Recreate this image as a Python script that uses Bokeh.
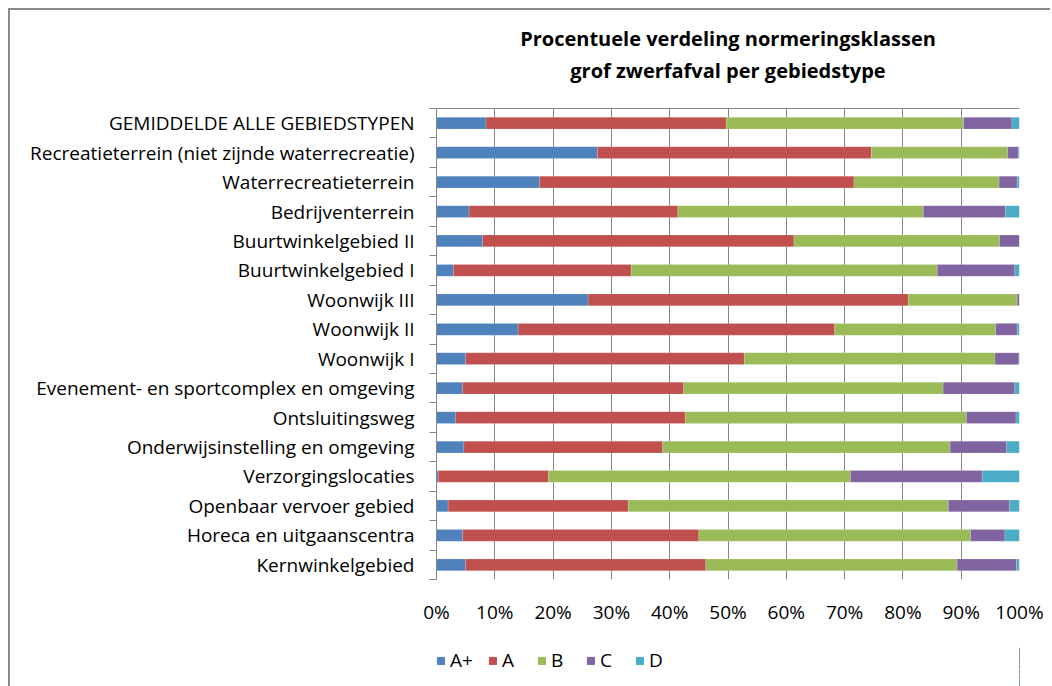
from bokeh.plotting import figure
from bokeh.layouts import column
from bokeh.models import (FactorRange, Range1d, LinearAxis, CategoricalAxis, FixedTicker,
                          Legend, PrintfTickFormatter, CustomJSTickFormatter, ColumnDataSource)
from bokeh.embed import file_html
from bokeh.resources import INLINE

categories = [
    "GEMIDDELDE ALLE GEBIEDSTYPEN",
    "Recreatieterrein (niet zijnde waterrecreatie)",
    "Waterrecreatieterrein",
    "Bedrijventerrein",
    "Buurtwinkelgebied II",
    "Buurtwinkelgebied I",
    "Woonwijk III",
    "Woonwijk II",
    "Woonwijk I",
    "Evenement- en sportcomplex en omgeving",
    "Ontsluitingsweg",
    "Onderwijsinstelling en omgeving",
    "Verzorgingslocaties",
    "Openbaar vervoer gebied",
    "Horeca en uitgaanscentra",
    "Kernwinkelgebied",
]
classes = ["A+", "A", "B", "C", "D"]
a_plus = [8.5, 27.6, 17.7, 5.6, 7.9, 2.9, 26.0, 14.0, 5.0, 4.5, 3.3, 4.7, 0.3, 2.0, 4.5, 5.0]
a_vals = [41.2, 47.0, 53.9, 35.8, 53.4, 30.5, 54.9, 54.3, 47.8, 37.9, 39.4, 34.1, 18.9, 30.9, 40.5, 41.2]
b_vals = [40.7, 23.4, 24.9, 42.1, 35.3, 52.5, 18.7, 27.6, 43.0, 44.5, 48.2, 49.3, 51.8, 54.9, 46.6, 43.1]
c_vals = [8.3, 1.8, 3.1, 14.1, 3.4, 13.3, 0.4, 3.7, 4.1, 12.3, 8.5, 9.7, 22.6, 10.5, 5.9, 10.2]
d_vals = [1.3, 0.2, 0.4, 2.4, 0.0, 0.8, 0.0, 0.4, 0.1, 0.8, 0.6, 2.2, 6.4, 1.7, 2.5, 0.5]
x_ticks = [0, 10, 20, 30, 40, 50, 60, 70, 80, 90, 100]
title_lines = ["Procentuele verdeling normeringsklassen", "grof zwerfafval per gebiedstype"]

colors = ["#4F81BD", "#C0504D", "#9BBB59", "#8064A2", "#4BACC6"]
FONT = "Open Sans"
GRID = "#868686"

source = ColumnDataSource(dict(cat=categories, **{"A+": a_plus, "A": a_vals, "B": b_vals,
                                                   "C": c_vals, "D": d_vals}))

p = figure(width=1040, height=617,
           y_range=FactorRange(factors=list(reversed(categories)), range_padding=0),
           x_range=Range1d(0, 100),
           output_backend="svg", toolbar_location=None, y_axis_location=None,
           title=title_lines[0],
           min_border_left=426, min_border_right=31, min_border_top=98, min_border_bottom=40)
p.outline_line_color = None

renderers = p.hbar_stack(classes, y="cat", height=0.4, color=colors, source=source,
                         line_color="white", line_alpha=0.3, line_width=0.5)

# x axis
p.xaxis.ticker = FixedTicker(ticks=x_ticks)
p.xaxis.formatter = PrintfTickFormatter(format="%d%%")
p.xaxis.axis_line_color = None
p.xaxis.major_tick_line_color = None
p.xaxis.minor_tick_line_color = None
p.xaxis.major_label_text_font = FONT
p.xaxis.major_label_text_font_size = "19px"
p.xaxis.major_label_text_color = "#000000"
p.xaxis.major_label_standoff = 13

p.xgrid.ticker = FixedTicker(ticks=x_ticks)
p.xgrid.grid_line_color = GRID
p.xgrid.grid_line_width = 1
p.ygrid.grid_line_color = None

# left axis: ticks at category boundaries (synthetic coordinates of the factor range)
tick_axis = LinearAxis(ticker=FixedTicker(ticks=list(range(len(categories) + 1))),
                       formatter=CustomJSTickFormatter(code="return ''"),
                       major_label_text_font_size="0px", major_label_standoff=0,
                       major_tick_in=0, major_tick_out=7, minor_tick_line_color=None,
                       axis_line_color=GRID, major_tick_line_color=GRID)
p.add_layout(tick_axis, "left")
cat_axis = CategoricalAxis(axis_line_color=None, major_tick_line_color=None,
                           major_label_text_font=FONT, major_label_text_font_size="19px",
                           major_label_text_color="#000000", major_label_standoff=9)
p.add_layout(cat_axis, "left")

# top line of plot area; its axis label carries the second title line
top_axis = LinearAxis(ticker=FixedTicker(ticks=[]), formatter=CustomJSTickFormatter(code="return ''"),
                      major_label_text_font_size="0px", major_label_standoff=0,
                      major_tick_in=0, major_tick_out=0, minor_tick_line_color=None,
                      axis_line_color=GRID,
                      axis_label=title_lines[1], axis_label_text_font=FONT,
                      axis_label_text_font_size="20px", axis_label_text_font_style="bold",
                      axis_label_text_color="#000000", axis_label_standoff=25)
p.add_layout(top_axis, "above")

p.title.align = "center"
p.title.text_font = FONT
p.title.text_font_size = "20px"
p.title.text_font_style = "bold"
p.title.text_color = "#000000"
p.title.standoff = 4

# legend in its own strip below the chart; the swatches come from the same data,
# drawn outside this strip's visible range
lg = figure(width=1040, height=59, x_range=Range1d(-300, -200),
            y_range=FactorRange(factors=list(reversed(categories))),
            output_backend="svg", toolbar_location=None,
            x_axis_location=None, y_axis_location=None,
            min_border_left=426, min_border_right=31, min_border_top=20, min_border_bottom=0)
lg.outline_line_color = None
lg.grid.visible = False
legend_renderers = lg.hbar_stack(classes, y="cat", height=0.4, color=colors, source=source)
legend = Legend(items=[(cls, [r]) for cls, r in zip(classes, legend_renderers)],
                orientation="horizontal", location="top_left",
                glyph_width=9, glyph_height=9, label_standoff=5, spacing=15,
                label_text_font=FONT, label_text_font_size="19px", label_text_color="#000000",
                padding=0, margin=0, border_line_color=None, background_fill_alpha=0)
lg.add_layout(legend, "center")

layout = column(p, lg, spacing=0)
layout.styles = {"position": "relative", "left": "8px", "top": "8px",
                 "border-left": "2px solid #8a8a8a", "border-top": "2px solid #8a8a8a"}

open("out.html", "w").write(file_html(layout, INLINE))
